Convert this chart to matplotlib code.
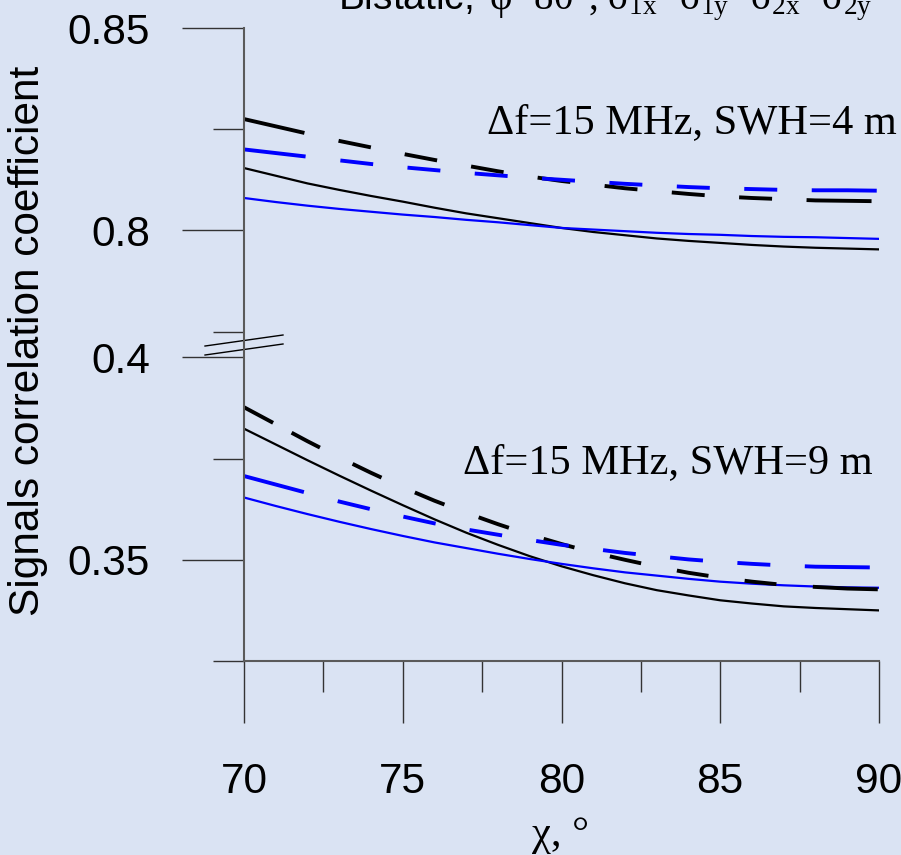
import numpy as np
import matplotlib
matplotlib.use('Agg')
import matplotlib.pyplot as plt
from matplotlib.ticker import FixedLocator, FixedFormatter

plt.rcParams['lines.scale_dashes'] = False
plt.rcParams['mathtext.fontset'] = 'custom'
plt.rcParams['mathtext.rm'] = 'Liberation Serif'
plt.rcParams['mathtext.it'] = 'Liberation Serif:italic'
plt.rcParams['mathtext.sf'] = 'Liberation Sans'

BG = '#DAE3F3'
SANS = 'Liberation Sans'
SERIF = 'Liberation Serif'
FS = 30.5

# incidence angle, deg
chi = list(range(70, 91))

# df = 15 MHz, SWH = 4 m
swh4_black_dash = [0.8275, 0.8257, 0.8239, 0.8221, 0.8205, 0.8189, 0.8174, 0.8160, 0.8146, 0.8133, 0.8122,
                   0.8113, 0.8104, 0.8097, 0.8090, 0.8084, 0.8080, 0.8077, 0.8074, 0.8073, 0.8072]
swh4_blue_dash = [0.8200, 0.8191, 0.8182, 0.8173, 0.8164, 0.8156, 0.8149, 0.8142, 0.8136, 0.8130, 0.8125,
                  0.8120, 0.8115, 0.8111, 0.8107, 0.8104, 0.8102, 0.8100, 0.8099, 0.8099, 0.8098]
swh4_black = [0.8154, 0.8135, 0.8116, 0.8100, 0.8085, 0.8071, 0.8056, 0.8042, 0.8030, 0.8018, 0.8006,
              0.7996, 0.7988, 0.7980, 0.7974, 0.7969, 0.7964, 0.7960, 0.7957, 0.7955, 0.7953]
swh4_blue = [0.8080, 0.8070, 0.8061, 0.8053, 0.8046, 0.8039, 0.8033, 0.8026, 0.8020, 0.8013, 0.8006,
             0.8002, 0.7998, 0.7994, 0.7991, 0.7989, 0.7986, 0.7984, 0.7983, 0.7981, 0.7979]

# df = 15 MHz, SWH = 9 m
swh9_black_dash = [0.3877, 0.3835, 0.3793, 0.3753, 0.3715, 0.3679, 0.3646, 0.3616, 0.3588, 0.3562, 0.3539,
                   0.3518, 0.3500, 0.3483, 0.3468, 0.3456, 0.3446, 0.3438, 0.3433, 0.3429, 0.3427]
swh9_blue_dash = [0.3707, 0.3686, 0.3665, 0.3644, 0.3625, 0.3607, 0.3590, 0.3575, 0.3562, 0.3549, 0.3537,
                  0.3527, 0.3517, 0.3509, 0.3501, 0.3495, 0.3490, 0.3486, 0.3483, 0.3482, 0.3481]
swh9_black = [0.3824, 0.3785, 0.3746, 0.3708, 0.3671, 0.3635, 0.3600, 0.3567, 0.3537, 0.3509, 0.3484,
              0.3462, 0.3442, 0.3425, 0.3412, 0.3400, 0.3392, 0.3385, 0.3381, 0.3378, 0.3375]
swh9_blue = [0.3654, 0.3633, 0.3613, 0.3594, 0.3576, 0.3559, 0.3543, 0.3529, 0.3515, 0.3502, 0.3490,
             0.3479, 0.3469, 0.3461, 0.3453, 0.3446, 0.3441, 0.3437, 0.3434, 0.3432, 0.3431]

y_major = [0.35, 0.4, 0.8, 0.85]
y_major_labels = ['0.35', '0.4', '0.8', '0.85']
y_minor = [0.325, 0.375, 0.775, 0.825]
x_major = [70, 75, 80, 85, 90]
x_minor = [72.5, 77.5, 82.5, 87.5]

# broken y axis: [0.325, 0.4] and [0.775, 0.85] with a small gap between
Y_LO, BRK_LO, BRK_HI, Y_HI = 0.325, 0.4, 0.775, 0.85
GAP = 0.0064
SEG = BRK_LO - Y_LO


def fwd(v):
    v = np.asarray(v, dtype=float)
    return np.where(v <= BRK_LO, v - Y_LO,
                    np.where(v >= BRK_HI, v - BRK_HI + SEG + GAP,
                             SEG + (v - BRK_LO) / (BRK_HI - BRK_LO) * GAP))


def inv(t):
    t = np.asarray(t, dtype=float)
    return np.where(t <= SEG, t + Y_LO,
                    np.where(t >= SEG + GAP, t - SEG - GAP + BRK_HI,
                             BRK_LO + (t - SEG) / GAP * (BRK_HI - BRK_LO)))


PX = 72 / 100.0  # pixels -> points


def dash(seq):
    return [s * PX for s in seq]


dash_long = dash([62, 35] + [33, 34.5] * 7 + [65, 20])
dash_steep = dash([33, 21] + [32, 36.5] * 8 + [65, 20])

fig = plt.figure(figsize=(9.01, 8.55), dpi=100, facecolor=BG)
ax = fig.add_axes([244 / 901, 194 / 855, 635 / 901, 633 / 855], facecolor=BG)
ax.set_yscale('function', functions=(fwd, inv))

lw_s, lw_d = 1.6, 2.8
ax.plot(chi, swh4_black, color='black', lw=lw_s)
ax.plot(chi, swh4_blue, color='#0000FF', lw=lw_s)
ax.plot(chi, swh4_black_dash, color='black', lw=lw_d, dashes=dash_long)
ax.plot(chi, swh4_blue_dash, color='#0000FF', lw=lw_d, dashes=dash_long)

ax.plot(chi, swh9_black, color='black', lw=lw_s)
ax.plot(chi, swh9_blue, color='#0000FF', lw=lw_s)
ax.plot(chi, swh9_black_dash, color='black', lw=lw_d, dashes=dash_steep)
ax.plot(chi, swh9_blue_dash, color='#0000FF', lw=lw_d, dashes=dash_long)

ax.set_xlim(70, 90)
ax.set_ylim(Y_LO, Y_HI)

ax.yaxis.set_major_locator(FixedLocator(y_major))
ax.yaxis.set_major_formatter(FixedFormatter(y_major_labels))
ax.yaxis.set_minor_locator(FixedLocator(y_minor))
ax.yaxis.set_minor_formatter(FixedFormatter([]))
ax.xaxis.set_major_locator(FixedLocator(x_major))
ax.xaxis.set_minor_locator(FixedLocator(x_minor))

for s in ('top', 'right'):
    ax.spines[s].set_visible(False)
for s in ('left', 'bottom'):
    ax.spines[s].set_color('#5a5a5a')
    ax.spines[s].set_linewidth(1.5)

ax.tick_params(which='major', direction='out', length=62 * PX, width=1.0, color='#333333')
ax.tick_params(which='minor', direction='out', length=31 * PX, width=1.0, color='#333333')
ax.tick_params(axis='x', which='major', pad=28)
ax.tick_params(axis='y', which='major', pad=23)
for lab in ax.get_xticklabels() + ax.get_yticklabels():
    lab.set_fontfamily(SANS)
    lab.set_fontsize(FS)

# break marks across the y axis
for y0 in (0.4976, 0.4834):
    ax.plot([-0.0614, 0.0614], [y0, y0 + 0.0174], transform=ax.transAxes,
            color='black', lw=1.0, clip_on=False)

fig.text(28 / 901, 1 - 341 / 855, 'Signals correlation coefficient', rotation=90,
         ha='center', va='center', fontfamily=SANS, fontsize=FS)
fig.text(561 / 901, 1 - 845 / 855, 'χ, °', ha='center', va='baseline',
         fontfamily=SERIF, fontsize=FS)

fig.text(487 / 901, 1 - 133 / 855, 'Δf=15 MHz, SWH=4 m', ha='left', va='baseline',
         fontfamily=SERIF, fontsize=FS)
fig.text(463 / 901, 1 - 473 / 855, 'Δf=15 MHz, SWH=9 m', ha='left', va='baseline',
         fontfamily=SERIF, fontsize=FS)

fig.text(338 / 901, 1 - 9.5 / 855,
         r'$\mathsf{Bistatic,}$ φ=80°, σ$_{\mathrm{1x}}$=σ$_{\mathrm{1y}}$=σ$_{\mathrm{2x}}$=σ$_{\mathrm{2y}}$',
         ha='left', va='baseline', fontfamily=SERIF, fontsize=28)

fig.savefig('out.png', dpi=100, facecolor=BG)
